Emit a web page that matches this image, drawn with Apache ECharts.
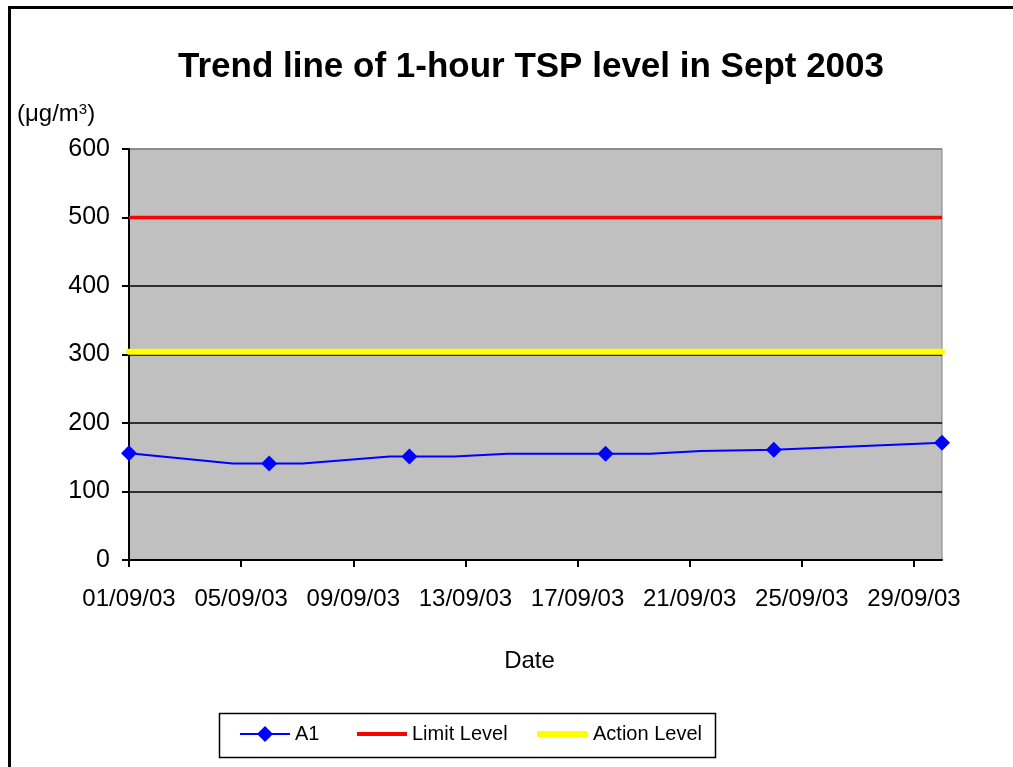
<!DOCTYPE html>
<html>
<head>
<meta charset="utf-8">
<script src="https://cdn.jsdelivr.net/npm/echarts@6/dist/echarts.min.js"></script>
<style>html,body{margin:0;padding:0;background:#fff;}#c{width:1013px;height:767px;}</style>
</head>
<body>
<div id="c"></div>
<script>
// ---- data ----
var titleText = 'Trend line of 1-hour TSP level in Sept 2003';
var tickDays = [1, 5, 9, 13, 17, 21, 25, 29];
var tickLabels = ['01/09/03','05/09/03','09/09/03','13/09/03','17/09/03','21/09/03','25/09/03','29/09/03'];
var a1Days   = [1, 4.7, 6, 7.2, 10.3, 11, 12.6, 14.5, 18, 19.6, 21.4, 24, 30];
var a1Values = [156, 141, 141, 141, 151, 151, 151, 155, 155, 155, 159, 161, 171];
var a1MarkerDays = [1, 6, 11, 18, 24, 30];
var limitLevel = 500;
var actionLevel = 304;
var firstDay = 1, lastDay = 30;

var font = 'Liberation Sans, Arial, sans-serif';

var a1Data = a1Days.map(function (d, i) {
  var item = { value: [d, a1Values[i]] };
  if (a1MarkerDays.indexOf(d) < 0) item.symbol = 'none';
  return item;
});

var legendText = { fontFamily: font, fontSize: 20, color: '#000' };

var chart = echarts.init(document.getElementById('c'), null, { renderer: 'canvas' });
chart.setOption({
  animation: false,
  backgroundColor: '#ffffff',
  title: [{
    text: titleText,
    left: 178, top: 50, padding: 0,
    textStyle: { fontFamily: font, fontSize: 35, fontWeight: 'bold', color: '#000' }
  }, {
    text: '(\u03bcg/m{sup|3})',
    left: 17, top: 102, padding: 0,
    textStyle: { fontFamily: font, fontSize: 24, fontWeight: 'normal', color: '#000',
      rich: { sup: { fontFamily: font, fontSize: 15, verticalAlign: 'top', padding: [0, 0, 10, 0], color: '#000' } } }
  }],
  grid: {
    left: 129, top: 149, right: 71, bottom: 207,
    show: true, backgroundColor: '#C0C0C0', borderColor: '#808080', borderWidth: 1
  },
  xAxis: {
    type: 'value', min: firstDay, max: lastDay,
    name: 'Date', nameLocation: 'middle', nameGap: 89,
    nameTextStyle: { fontFamily: font, fontSize: 24, color: '#000', padding: [0, 12, 0, 0] },
    axisLine: { show: true, onZero: false, lineStyle: { color: '#000', width: 2 } },
    axisTick: { show: true, length: 7, customValues: tickDays, lineStyle: { color: '#000', width: 2 } },
    axisLabel: {
      customValues: tickDays, margin: 27,
      fontFamily: font, fontSize: 24, color: '#000',
      formatter: function (v) { var i = tickDays.indexOf(v); return i >= 0 ? tickLabels[i] : ''; }
    },
    splitLine: { show: false }
  },
  yAxis: {
    type: 'value', min: 0, max: 600, interval: 100,
    axisLine: { show: true, lineStyle: { color: '#000', width: 2 } },
    axisTick: { show: true, length: 7, lineStyle: { color: '#000', width: 2 } },
    axisLabel: { margin: 19, fontFamily: font, fontSize: 25, color: '#000' },
    splitLine: { show: true, lineStyle: { color: ['#000','#000','#000','#000','#000','#000','#808080'], width: 1.5 } }
  },
  legend: [
    { data: ['A1'], left: 239, top: 724, padding: 0, itemWidth: 50, itemHeight: 20, itemGap: 6,
      textStyle: legendText },
    { data: [{ name: 'Limit Level', icon: 'rect' }], left: 357, top: 724, padding: 0, itemWidth: 50, itemHeight: 4,
      textStyle: legendText },
    { data: [{ name: 'Action Level', icon: 'roundRect' }], left: 537, top: 724, padding: 0, itemWidth: 51, itemHeight: 6,
      textStyle: legendText }
  ],
  graphic: [
    { type: 'rect', shape: { x: 9.5, y: 7.5, width: 1100, height: 1000 }, silent: true, z: -10,
      style: { fill: 'none', stroke: '#000', lineWidth: 3 } },
    { type: 'rect', shape: { x: 219.5, y: 713.5, width: 496, height: 44 }, silent: true,
      style: { fill: 'none', stroke: '#000', lineWidth: 1.5 } }
  ],
  series: [
    {
      name: 'A1', type: 'line', data: a1Data,
      symbol: 'diamond', symbolSize: 16, showAllSymbol: true,
      itemStyle: { color: '#0000FF' },
      lineStyle: { color: '#0000FF', width: 2 },
      z: 5, clip: false
    },
    {
      name: 'Limit Level', type: 'line', data: [[firstDay, limitLevel], [lastDay, limitLevel]],
      symbol: 'none', itemStyle: { color: '#FF0000' },
      lineStyle: { color: '#FF0000', width: 3.5 }, z: 3
    },
    {
      name: 'Action Level', type: 'line', data: [[firstDay, actionLevel], [lastDay, actionLevel]],
      symbol: 'none', itemStyle: { color: '#FFFF00' },
      lineStyle: { color: '#FFFF00', width: 6, cap: 'round' }, z: 3
    }
  ]
});
</script>
</body>
</html>
